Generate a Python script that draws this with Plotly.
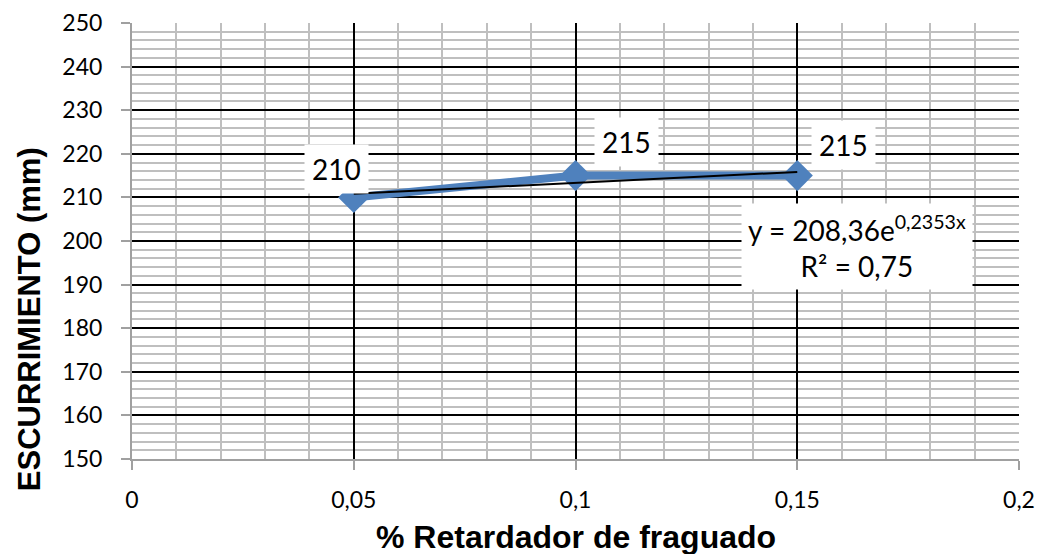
import numpy as np
import plotly.graph_objects as go

# Data
retardador = [0.05, 0.10, 0.15]
escurrimiento = [210, 215, 215]
point_labels = ["210", "215", "215"]

# Exponential trendline coefficients (as displayed)
trend_a = 208.36
trend_b = 0.2353
trend_label = "y = 208,36e<sup>0,2353x</sup><br>R² = 0,75"

x_ticks = [0, 0.05, 0.1, 0.15, 0.2]
x_ticktext = ["0", "0,05", "0,1", "0,15", "0,2"]
y_ticks = list(range(150, 251, 10))

blue = "#4F81BD"
tick_font = "Lato, Open Sans, sans-serif"
title_font = "Liberation Sans, Arial, sans-serif"

fig = go.Figure()

tx = np.linspace(min(retardador), max(retardador), 50)
ty = trend_a * np.exp(trend_b * tx)

fig.add_trace(go.Scatter(
    x=retardador, y=escurrimiento, mode="lines+markers",
    line=dict(color=blue, width=8),
    marker=dict(symbol="diamond", size=24, color=blue),
    showlegend=False, hoverinfo="skip"))

fig.add_trace(go.Scatter(
    x=tx, y=ty, mode="lines", line=dict(color="black", width=2),
    showlegend=False, hoverinfo="skip"))

shifts = [(-17, 28), (51, 34), (46, 31)]
for (x, y, t, (dx, dy)) in zip(retardador, escurrimiento, point_labels, shifts):
    fig.add_annotation(x=x, y=y, text=t, showarrow=False, xshift=dx, yshift=dy,
                       font=dict(family=tick_font, size=28, color="black"),
                       bgcolor="white", borderpad=7)

fig.add_annotation(x=0.15, y=200, xref="x", yref="y", text=trend_label, showarrow=False,
                   xshift=60, yshift=-5, align="center",
                   font=dict(family=tick_font, size=28, color="black"),
                   bgcolor="white", borderpad=6)

# Axis titles
fig.add_annotation(x=0.5, y=-0.179, xref="paper", yref="paper",
                   text="<b>% Retardador de fraguado</b>", showarrow=False,
                   xanchor="center", yanchor="middle",
                   font=dict(family=title_font, size=32, color="black"))
fig.add_annotation(x=-0.116, y=0.321, xref="paper", yref="paper",
                   text="<b>ESCURRIMIENTO (mm)</b>", showarrow=False, textangle=-90,
                   xanchor="center", yanchor="middle",
                   font=dict(family=title_font, size=31, color="black"))

fig.update_layout(
    width=1038, height=554,
    margin=dict(l=132, r=19, t=23, b=95),
    paper_bgcolor="white", plot_bgcolor="white",
    font=dict(family=tick_font, size=23, color="black"),
)

fig.update_xaxes(
    range=[0, 0.2], tickvals=x_ticks, ticktext=x_ticktext,
    showgrid=True, gridcolor="black", gridwidth=2,
    minor=dict(dtick=0.01, showgrid=True, gridcolor="#BFBFBF", gridwidth=2, ticks=""),
    showline=True, linecolor="#A0A0A0", linewidth=2,
    ticks="outside", ticklen=9, tickcolor="#A0A0A0", tickwidth=2,
    ticklabelstandoff=10,
    zeroline=False, automargin=False,
)
fig.update_yaxes(
    range=[150, 250], tickvals=y_ticks,
    showgrid=True, gridcolor="black", gridwidth=2,
    minor=dict(dtick=2, showgrid=True, gridcolor="#BFBFBF", gridwidth=2, ticks=""),
    showline=True, linecolor="#A0A0A0", linewidth=2,
    ticks="outside", ticklen=9, tickcolor="#A0A0A0", tickwidth=2,
    ticklabelstandoff=14,
    zeroline=False, automargin=False,
)

fig.write_html("out.html", config={"displayModeBar": False},
               post_script="document.body.style.margin='0';document.body.style.padding='0';")
